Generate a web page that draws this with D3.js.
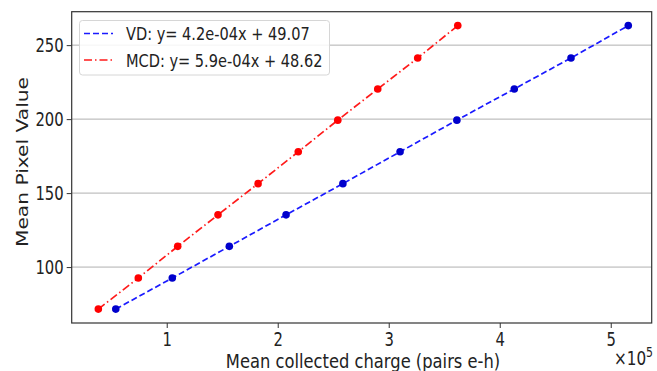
<!DOCTYPE html>
<html><head><meta charset="utf-8">
<script src="https://cdn.jsdelivr.net/npm/d3@7"></script>
<style>
body{margin:0;background:#fff;}
svg{display:block;font-family:"DejaVu Sans",sans-serif;}
</style></head>
<body><svg id="c" width="657" height="371"></svg>
<script>
// Data (x in units of 1e5 pairs e-h)
const vdCharge = [0.541, 1.050, 1.564, 2.075, 2.587, 3.102, 3.614, 4.131, 4.642, 5.158];
const vdPixel  = [71.6, 92.6, 114.0, 135.3, 156.4, 177.9, 199.3, 220.4, 241.3, 263.2];
const mcdCharge = [0.384, 0.744, 1.099, 1.462, 1.823, 2.185, 2.541, 2.901, 3.261, 3.622];
const mcdPixel  = [71.6, 92.6, 114.0, 135.3, 156.4, 177.9, 199.3, 220.4, 241.3, 263.2];
const xTicks = [1, 2, 3, 4, 5];
const yTicks = [100, 150, 200, 250];
const legendLabels = ["VD: y= 4.2e-04x + 49.07", "MCD: y= 5.9e-04x + 48.62"];

const SX = 0.78; // horizontal squeeze of the glyphs seen in the reference
const svg = d3.select("#c");
const L = 71.7, R = 651.7, T = 11.7, B = 323;
const x = d3.scaleLinear().domain([0.144, 5.369]).range([L, R]);
const y = d3.scaleLinear().domain([62.2, 272.6]).range([B, T]);

// grid
svg.append("g").selectAll("line").data(yTicks).join("line")
  .attr("x1", L).attr("x2", R).attr("y1", d => y(d)).attr("y2", d => y(d))
  .attr("stroke", "#b0b0b0").attr("stroke-width", 1);

// axes
const xAxis = svg.append("g").attr("transform", `translate(0,${B})`)
  .call(d3.axisBottom(x).tickValues(xTicks).tickFormat(d3.format("d")).tickSize(5).tickPadding(4));
const yAxis = svg.append("g").attr("transform", `translate(${L},0)`)
  .call(d3.axisLeft(y).tickValues(yTicks).tickSize(5).tickPadding(4));
[xAxis, yAxis].forEach(a => {
  a.select(".domain").remove();
  a.selectAll(".tick line").attr("stroke", "#333");
  a.selectAll(".tick text").attr("font-size", 19).attr("fill", "#222")
   .attr("font-family", "DejaVu Sans");
});
xAxis.selectAll(".tick text").attr("transform", `scale(${SX},1)`).attr("y", 8.5).attr("dy", "0.75em");
yAxis.selectAll(".tick text").attr("x", -8 / SX).attr("transform", `scale(${SX},1)`);

// frame
svg.append("rect").attr("x", L).attr("y", T).attr("width", R - L).attr("height", B - T)
  .attr("fill", "none").attr("stroke", "#333").attr("stroke-width", 1.2);

// series
const series = [
  {xs: vdCharge, ys: vdPixel, line: "#1a1aff", pt: "#0000cc", dash: "6,3"},
  {xs: mcdCharge, ys: mcdPixel, line: "#ff1a1a", pt: "#ff0000", dash: "8,3,1.5,3"}
];
const lineGen = d3.line().x(d => x(d[0])).y(d => y(d[1]));
series.forEach(s => {
  const pts = s.xs.map((v, i) => [v, s.ys[i]]);
  svg.append("path").datum(pts).attr("d", lineGen).attr("fill", "none")
    .attr("stroke", s.line).attr("stroke-width", 1.7).attr("stroke-dasharray", s.dash);
  svg.append("g").selectAll("circle").data(pts).join("circle")
    .attr("cx", d => x(d[0])).attr("cy", d => y(d[1])).attr("r", 3.8).attr("fill", s.pt);
});

// legend
const lg = svg.append("g");
lg.append("rect").attr("x", 79.5).attr("y", 20.5).attr("width", 250).attr("height", 54.5)
  .attr("rx", 3).attr("fill", "#fff").attr("fill-opacity", 0.85).attr("stroke", "#d6d6d6");
series.forEach((s, i) => {
  const yy = 33.5 + i * 26.5;
  lg.append("line").attr("x1", 84).attr("x2", 113).attr("y1", yy).attr("y2", yy)
    .attr("stroke", s.line).attr("stroke-width", 1.7).attr("stroke-dasharray", s.dash);
  lg.append("text").attr("transform", `translate(126,${yy}) scale(0.8,1)`).attr("dy", "0.36em")
    .attr("font-size", 18.2).attr("fill", "#222").text(legendLabels[i]);
});

// labels
svg.append("text").attr("transform", `translate(363,368) scale(0.86,1)`).attr("text-anchor", "middle")
  .attr("font-size", 19).attr("fill", "#222").text("Mean collected charge (pairs e-h)");
svg.append("text").attr("transform", `translate(28,162) rotate(-90) scale(1,${SX})`)
  .attr("text-anchor", "middle").attr("font-size", 20.2).attr("fill", "#222").text("Mean Pixel Value");
const off = svg.append("text").attr("transform", `translate(653,365) scale(${SX},1)`).attr("text-anchor", "end")
  .attr("font-size", 19.5).attr("fill", "#222");
off.append("tspan").text("×10");
off.append("tspan").attr("dy", -8).attr("font-size", 14).text("5");
</script></body></html>
